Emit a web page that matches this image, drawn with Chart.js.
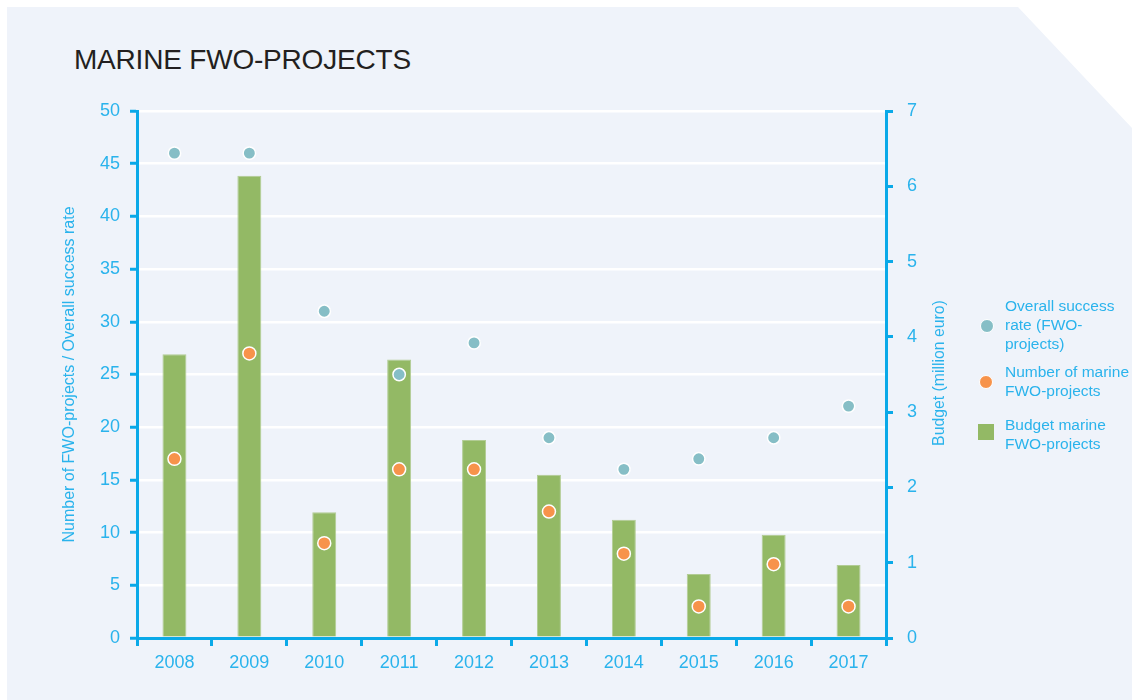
<!DOCTYPE html>
<html>
<head>
<meta charset="utf-8">
<script src="https://cdn.jsdelivr.net/npm/chart.js@4"></script>
<style>
  html, body { margin: 0; padding: 0; background: #fff; }
  body { width: 1132px; height: 700px; position: relative; overflow: hidden; font-family: "Liberation Sans", Arial, sans-serif; }
  .panel {
    position: absolute; left: 7px; top: 7px; right: 0; bottom: 0;
    background: #eff3fa;
    clip-path: polygon(0 0, calc(100% - 114px) 0, 100% 121px, 100% 100%, 0 100%);
  }
  .title {
    position: absolute; left: 74px; top: 46px;
    font-size: 28px; line-height: 28px; color: #231f20; letter-spacing: -0.2px;
  }
  #chart { position: absolute; left: 0; top: 0; }
  .legend-text {
    position: absolute; left: 1005px; font-size: 15.5px; line-height: 19px; color: #2ab3ec;
  }
  .right-title {
    position: absolute; left: 939px; top: 373px; width: 0; height: 0;
  }
  .right-title span {
    position: absolute; left: 0; top: 0; white-space: nowrap;
    font-size: 15.8px; line-height: 18px; color: #2ab3ec;
    transform: translate(-50%, -50%) rotate(-90deg);
  }
  .dot { position: absolute; border-radius: 50%; border: 1.5px solid #fff; box-sizing: border-box; }
  .square { position: absolute; background: #93b965; }
</style>
</head>
<body>
<div class="panel"></div>
<div class="title">MARINE FWO-PROJECTS</div>
<canvas id="chart" width="1132" height="700"></canvas>
<div class="right-title"><span>Budget (million euro)</span></div>

<div class="dot" style="left:980px; top:319px; width:14px; height:14px; background:#86bec6;"></div>
<div class="legend-text" style="top:296px;">Overall success<br>rate (FWO-<br>projects)</div>
<div class="dot" style="left:979px; top:375px; width:14px; height:14px; background:#f7934b;"></div>
<div class="legend-text" style="top:362px;">Number of marine<br>FWO-projects</div>
<div class="square" style="left:978px; top:424px; width:16px; height:16px;"></div>
<div class="legend-text" style="top:415px;">Budget marine<br>FWO-projects</div>

<script>
// chart values
const years = ["2008", "2009", "2010", "2011", "2012", "2013", "2014", "2015", "2016", "2017"];
const successRate = [46, 46, 31, 25, 28, 19, 16, 17, 19, 22];
const projectCount = [17, 27, 9, 16, 16, 12, 8, 3, 7, 3];
const budgetMillion = [3.77, 6.14, 1.67, 3.70, 2.63, 2.17, 1.57, 0.85, 1.37, 0.97];

const axisColor = "#0aa9e8";
const labelColor = "#2ab3ec";
const tickFont = { family: "Liberation Sans, Arial, sans-serif", size: 18 };
const titleFont = { family: "Liberation Sans, Arial, sans-serif", size: 16 };

const ctx = document.getElementById("chart").getContext("2d");

new Chart(ctx, {
  type: "bar",
  data: {
    labels: years,
    datasets: [
      {
        type: "line",
        label: "Overall success rate (FWO-projects)",
        data: successRate,
        yAxisID: "y",
        showLine: false,
        pointRadius: 6.2,
        pointBackgroundColor: "#86bec6",
        pointBorderColor: "#ffffff",
        pointBorderWidth: 1.5,
        order: 1,
      },
      {
        type: "line",
        label: "Number of marine FWO-projects",
        data: projectCount,
        yAxisID: "y",
        showLine: false,
        pointRadius: 6.5,
        pointBackgroundColor: "#f7934b",
        pointBorderColor: "#ffffff",
        pointBorderWidth: 1.5,
        order: 2,
      },
      {
        label: "Budget marine FWO-projects",
        data: budgetMillion,
        yAxisID: "y1",
        backgroundColor: "#93b965",
        borderColor: "#b2cc94",
        borderWidth: 1,
        barPercentage: 0.32,
        categoryPercentage: 1,
        order: 3,
      },
    ],
  },
  options: {
    responsive: false,
    animation: false,
    layout: { padding: { left: 0, right: 176, top: 111, bottom: 0 } },
    plugins: {
      legend: { display: false },
      tooltip: { enabled: false },
    },
    scales: {
      x: {
        offset: true,
        afterFit: (scale) => { scale.height = 62; },
        grid: {
          offset: true,
          drawOnChartArea: false,
          color: axisColor,
          lineWidth: 3,
          tickLength: 8,
        },
        border: { display: true, color: axisColor, width: 3 },
        ticks: { color: labelColor, font: tickFont, padding: 6, maxRotation: 0 },
      },
      y: {
        position: "left",
        min: 0,
        max: 50,
        afterFit: (scale) => { scale.width = 137; },
        grid: {
          color: (c) => (c.tick && c.tick.value === 0 ? "rgba(0,0,0,0)" : "#ffffff"),
          lineWidth: 2.5,
          tickColor: axisColor,
          tickWidth: 3,
          tickLength: 7,
        },
        border: { display: true, color: axisColor, width: 3 },
        ticks: { stepSize: 5, color: labelColor, font: tickFont, padding: 10 },
        title: {
          display: true,
          text: "Number of FWO-projects / Overall success rate",
          color: labelColor,
          font: titleFont,
          padding: { top: 60, bottom: 0 },
        },
      },
      y1: {
        position: "right",
        min: 0,
        max: 7,
        afterFit: (scale) => { scale.width = 70; },
        grid: {
          drawOnChartArea: false,
          color: axisColor,
          lineWidth: 3,
          tickLength: 7,
        },
        border: { display: true, color: axisColor, width: 3 },
        ticks: { stepSize: 1, color: labelColor, font: tickFont, padding: 14 },
      },
    },
  },
});
</script>
</body>
</html>
